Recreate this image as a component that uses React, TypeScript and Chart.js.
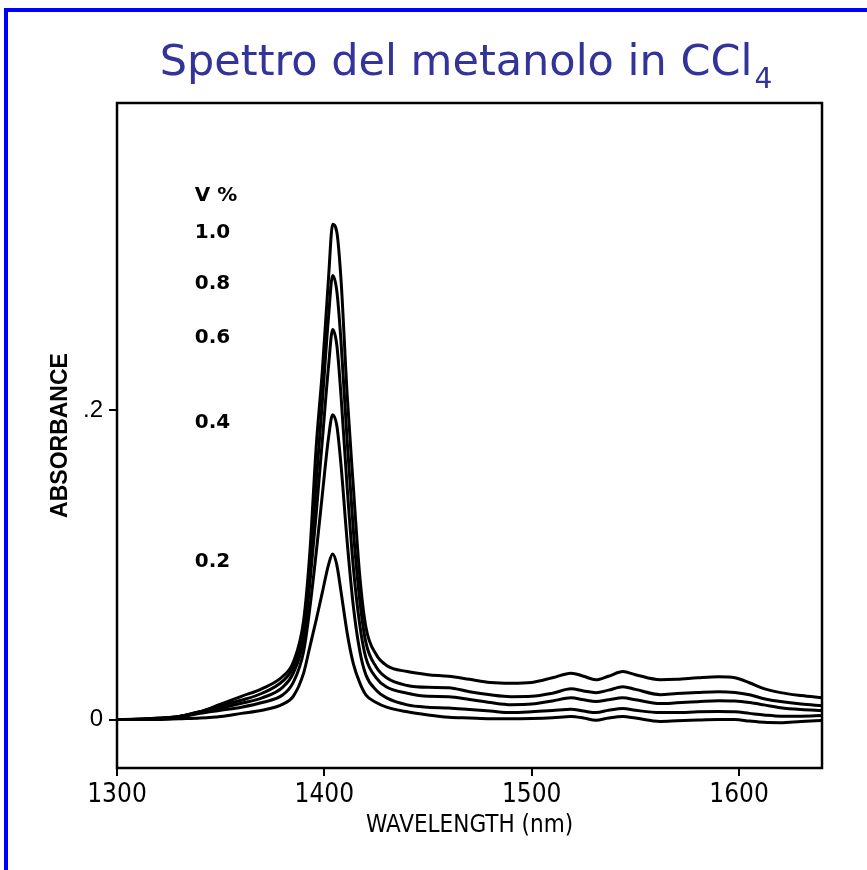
import React, { useEffect, useRef } from "react";
import { Chart, registerables } from "chart.js";

Chart.register(...registerables);

const wavelengths = [1300, 1310, 1320, 1330, 1340, 1350, 1360, 1370, 1380, 1385, 1390, 1393, 1396, 1399, 1402, 1404, 1406, 1408, 1411, 1414, 1417, 1420, 1425, 1430, 1440, 1450, 1460, 1470, 1480, 1490, 1500, 1510, 1519, 1525, 1531, 1537, 1544, 1550, 1562, 1570, 1580, 1590, 1598, 1605, 1612, 1620, 1630, 1640];

const abs10 = [0, 0.0003, 0.001, 0.002, 0.005, 0.010, 0.015, 0.020, 0.028, 0.037, 0.064, 0.108, 0.175, 0.225, 0.285, 0.320, 0.315, 0.285, 0.210, 0.150, 0.094, 0.060, 0.042, 0.035, 0.031, 0.029, 0.028, 0.026, 0.024, 0.0235, 0.024, 0.027, 0.030, 0.028, 0.0257, 0.028, 0.031, 0.029, 0.0257, 0.026, 0.027, 0.0277, 0.027, 0.0238, 0.020, 0.0174, 0.0155, 0.0141];
const abs08 = [0, 0.0002, 0.0008, 0.002, 0.005, 0.009, 0.0125, 0.017, 0.025, 0.034, 0.058, 0.098, 0.152, 0.205, 0.260, 0.287, 0.277, 0.245, 0.180, 0.122, 0.078, 0.050, 0.034, 0.027, 0.022, 0.0208, 0.0206, 0.018, 0.016, 0.0148, 0.015, 0.017, 0.0199, 0.0185, 0.0174, 0.019, 0.0212, 0.0195, 0.0161, 0.0168, 0.0175, 0.018, 0.0175, 0.016, 0.0135, 0.0116, 0.010, 0.009];
const abs06 = [0, 0, 0.0005, 0.002, 0.005, 0.0075, 0.0105, 0.014, 0.021, 0.030, 0.052, 0.088, 0.132, 0.180, 0.228, 0.252, 0.242, 0.210, 0.150, 0.098, 0.062, 0.040, 0.027, 0.021, 0.017, 0.015, 0.0148, 0.013, 0.011, 0.0096, 0.010, 0.012, 0.0141, 0.0128, 0.0116, 0.0128, 0.0141, 0.0128, 0.0103, 0.0108, 0.0115, 0.0122, 0.012, 0.011, 0.0095, 0.0077, 0.0065, 0.0058];
const abs04 = [0, 0, 0.0005, 0.0015, 0.004, 0.006, 0.008, 0.011, 0.016, 0.024, 0.044, 0.072, 0.107, 0.145, 0.182, 0.197, 0.190, 0.165, 0.115, 0.073, 0.045, 0.029, 0.019, 0.014, 0.0095, 0.008, 0.0075, 0.0065, 0.0055, 0.0045, 0.005, 0.0058, 0.0066, 0.0055, 0.0045, 0.006, 0.0072, 0.006, 0.0045, 0.0045, 0.005, 0.0052, 0.005, 0.004, 0.003, 0.0022, 0.0022, 0.0026];
const abs02 = [0, 0, 0, 0.0005, 0.001, 0.002, 0.004, 0.006, 0.010, 0.015, 0.030, 0.047, 0.064, 0.082, 0.100, 0.107, 0.100, 0.083, 0.056, 0.036, 0.024, 0.016, 0.011, 0.008, 0.005, 0.003, 0.0015, 0.001, 0.0005, 0.0005, 0.0007, 0.0012, 0.002, 0.001, -0.0005, 0.001, 0.002, 0.001, -0.0012, -0.0008, -0.0003, 0, 0, -0.001, -0.0018, -0.002, -0.0012, -0.0006];

const seriesLabels = ["1.0", "0.8", "0.6", "0.4", "0.2"];
const seriesPeaks = [0.32, 0.287, 0.252, 0.197, 0.107];
const legendTitle = "V %";
const xTickValues = [1300, 1400, 1500, 1600];
const yTickValues = [0, 0.2];
const yTickLabels = ["0", ".2"];
const chartTitle = "Spettro del metanolo in CCl";
const chartTitleSub = "4";
const xTitle = "WAVELENGTH (nm)";
const yTitle = "ABSORBANCE";

const NARROW = "'Liberation Sans Narrow', 'DejaVu Sans Condensed', 'Liberation Sans', Arial, sans-serif";

export default function App() {
  const ref = useRef<HTMLCanvasElement>(null);

  useEffect(() => {
    if (!ref.current) return;
    const series = [abs10, abs08, abs06, abs04, abs02];

    const decor = {
      id: "decor",
      beforeDraw(chart: any) {
        const ctx = chart.ctx;
        ctx.save();
        ctx.fillStyle = "#ffffff";
        ctx.fillRect(0, 0, chart.width, chart.height);
        ctx.fillStyle = "#0000ff";
        ctx.fillRect(4, 8, 4, chart.height - 8);
        ctx.fillRect(4, 8, chart.width - 4, 4);
        ctx.fillStyle = "#333399";
        ctx.textAlign = "left";
        ctx.textBaseline = "alphabetic";
        ctx.font = "43px 'DejaVu Sans'";
        const w1 = ctx.measureText(chartTitle).width;
        ctx.font = "28px 'DejaVu Sans'";
        const w2 = ctx.measureText(chartTitleSub).width;
        const x0 = 466 - (w1 + w2 + 2) / 2;
        ctx.font = "43px 'DejaVu Sans'";
        ctx.fillText(chartTitle, x0, 75);
        ctx.font = "28px 'DejaVu Sans'";
        ctx.fillText(chartTitleSub, x0 + w1 + 2, 88);
        ctx.restore();
      },
      afterDatasetsDraw(chart: any) {
        const { ctx, chartArea: a, scales } = chart;
        ctx.save();
        ctx.strokeStyle = "#000";
        ctx.lineWidth = 2.5;
        ctx.strokeRect(a.left, a.top, a.right - a.left, a.bottom - a.top);
        ctx.fillStyle = "#000";
        ctx.font = "bold 20px 'DejaVu Sans'";
        ctx.textAlign = "left";
        ctx.textBaseline = "middle";
        const lx = scales.x.getPixelForValue(1337.5);
        seriesLabels.forEach((t, i) => {
          const y = scales.y.getPixelForValue(seriesPeaks[i]) + 8;
          ctx.fillText(t, lx, y);
          if (i === 0) ctx.fillText(legendTitle, lx, y - 37);
        });
        ctx.restore();
      },
    };

    const chart = new Chart(ref.current, {
      type: "line",
      data: {
        datasets: series.map((s, i) => ({
          label: seriesLabels[i],
          data: wavelengths.map((w, j) => ({ x: w, y: s[j] })),
          borderColor: "#000",
          borderWidth: 3,
          pointRadius: 0,
          fill: false,
          cubicInterpolationMode: "monotone" as const,
        })),
      },
      options: {
        responsive: false,
        animation: false,
        layout: { padding: { left: 0, top: 103, right: 45, bottom: 0 } },
        plugins: {
          legend: { display: false },
          tooltip: { enabled: false },
          title: { display: false },
        },
        scales: {
          x: {
            type: "linear",
            min: 1300,
            max: 1640,
            afterBuildTicks: (s: any) => {
              s.ticks = xTickValues.map((v) => ({ value: v }));
            },
            afterFit: (s: any) => {
              s.height = 102;
            },
            ticks: {
              color: "#000",
              font: { family: NARROW, size: 26 },
              padding: 4,
              maxRotation: 0,
              callback: (v: any) => String(v),
            },
            grid: {
              display: true,
              drawOnChartArea: false,
              drawTicks: true,
              tickLength: 8,
              color: "#000",
              lineWidth: 2,
            },
            border: { display: false },
            title: {
              display: true,
              text: xTitle,
              color: "#000",
              font: { family: NARROW, size: 24 },
              padding: { top: 0, bottom: 30 },
            },
          },
          y: {
            type: "linear",
            min: -0.0313,
            max: 0.3984,
            afterBuildTicks: (s: any) => {
              s.ticks = yTickValues.map((v) => ({ value: v }));
            },
            afterFit: (s: any) => {
              s.width = 117;
            },
            ticks: {
              color: "#000",
              font: { family: "'Liberation Sans', Arial, sans-serif", size: 24 },
              padding: 6,
              callback: (v: any) => {
                const idx = yTickValues.indexOf(Number(v));
                return idx >= 0 ? yTickLabels[idx] : "";
              },
            },
            grid: {
              display: true,
              drawOnChartArea: false,
              drawTicks: true,
              tickLength: 8,
              color: "#000",
              lineWidth: 2,
            },
            border: { display: false },
            title: {
              display: true,
              text: yTitle,
              color: "#000",
              font: { family: "'Liberation Sans', Arial, sans-serif", size: 23, weight: "bold" },
              padding: { top: 47, bottom: 0 },
            },
          },
        },
      },
      plugins: [decor],
    });

    return () => chart.destroy();
  }, []);

  return (
    <div style={{ position: "fixed", left: 0, top: 0, width: 867, height: 870, background: "#fff" }}>
      <canvas ref={ref} width={867} height={870} style={{ display: "block", width: 867, height: 870 }} />
    </div>
  );
}
